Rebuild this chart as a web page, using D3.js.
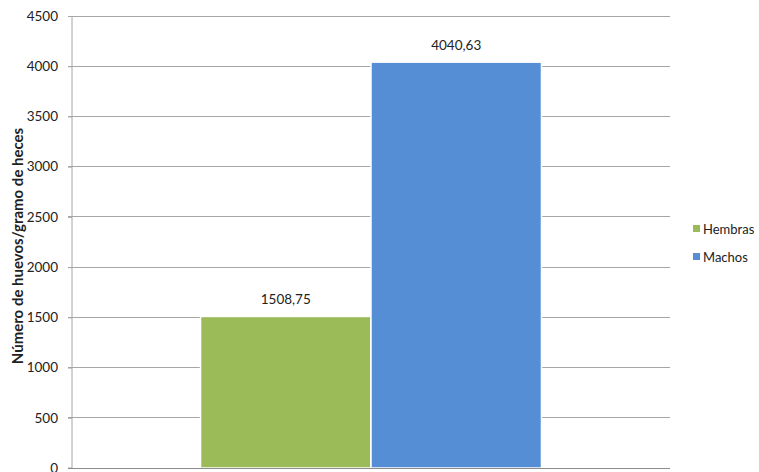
<!DOCTYPE html>
<html><head><meta charset="utf-8">
<script src="https://cdn.jsdelivr.net/npm/d3@7"></script>
<style>body{margin:0;background:#fff}svg{display:block}text{font-family:Lato,"Open Sans",sans-serif;fill:#222}</style>
</head><body><svg id="c" width="759" height="472"></svg>
<script>
const categories = [""];
const seriesNames = ["Hembras", "Machos"];
const seriesValues = [1508.75, 4040.63];
const seriesLabels = ["1508,75", "4040,63"];
const seriesColors = ["#9bbb59", "#558ed5"];
const yTicks = [0, 500, 1000, 1500, 2000, 2500, 3000, 3500, 4000, 4500];
const yTitle = "Número de huevos/gramo de heces";

const svg = d3.select("#c");
const m = {l: 72, r: 89, t: 16, b: 4};
const W = 759, H = 472;
const x0 = d3.scaleBand().domain(categories).range([m.l, W - m.r]).paddingInner(0).paddingOuter(0.377);
const x1 = d3.scaleBand().domain(seriesNames).range([0, x0.bandwidth()]).padding(0);
const y = d3.scaleLinear().domain([0, 4500]).range([H - m.b, m.t]);

// gridlines
svg.append("g").selectAll("line").data(yTicks.filter(d => d > 0)).join("line")
  .attr("x1", m.l - 4).attr("x2", W - m.r)
  .attr("y1", d => y(d)).attr("y2", d => y(d))
  .attr("stroke", "#a6a6a6").attr("stroke-width", 1).attr("shape-rendering", "crispEdges");

// y axis
const ya = svg.append("g").attr("transform", `translate(${m.l},0)`)
  .call(d3.axisLeft(y).tickValues(yTicks).tickSize(4).tickPadding(10).tickFormat(d3.format("d")));
ya.select(".domain").attr("stroke", "#a6a6a6").attr("d", `M-4,${y(0)}H0V${y(4500)}`);
ya.selectAll(".tick line").attr("stroke", "#a6a6a6");
ya.selectAll(".tick text").style("font-family", "Lato, sans-serif").style("font-size", "13.5px").attr("fill", "#222");

// bars
const g = svg.append("g").attr("transform", `translate(${x0(categories[0])},0)`);
g.selectAll("rect").data(seriesValues).join("rect")
  .attr("x", (d, i) => x1(seriesNames[i]))
  .attr("width", x1.bandwidth())
  .attr("y", d => y(d)).attr("height", d => y(0) - y(d))
  .attr("fill", (d, i) => seriesColors[i])
  .attr("stroke", "#fff").attr("stroke-width", 1.5);

g.selectAll("text.lbl").data(seriesValues).join("text").attr("class", "lbl")
  .attr("x", (d, i) => x1(seriesNames[i]) + x1.bandwidth() / 2)
  .attr("y", d => y(d) - 12)
  .attr("text-anchor", "middle").style("font-size", "13.5px")
  .text((d, i) => seriesLabels[i]);

// x axis line
svg.append("line").attr("x1", m.l - 4).attr("x2", W - m.r).attr("y1", y(0)).attr("y2", y(0))
  .attr("stroke", "#8c8c8c").attr("shape-rendering", "crispEdges");

// y title
svg.append("text").attr("transform", `translate(23,${(y(0) + y(4500)) / 2 + 4}) rotate(-90)`)
  .attr("text-anchor", "middle").style("font-size", "15px").style("font-weight", "bold").text(yTitle);

// legend
const lg = svg.append("g").selectAll("g").data(seriesNames).join("g")
  .attr("transform", (d, i) => `translate(693,${229 + i * 28})`);
lg.append("rect").attr("x", 0).attr("y", -4).attr("width", 7).attr("height", 7).attr("fill", (d, i) => seriesColors[i]);
lg.append("text").attr("x", 10).attr("y", 4.5).style("font-size", "13px").text(d => d);
</script></body></html>
